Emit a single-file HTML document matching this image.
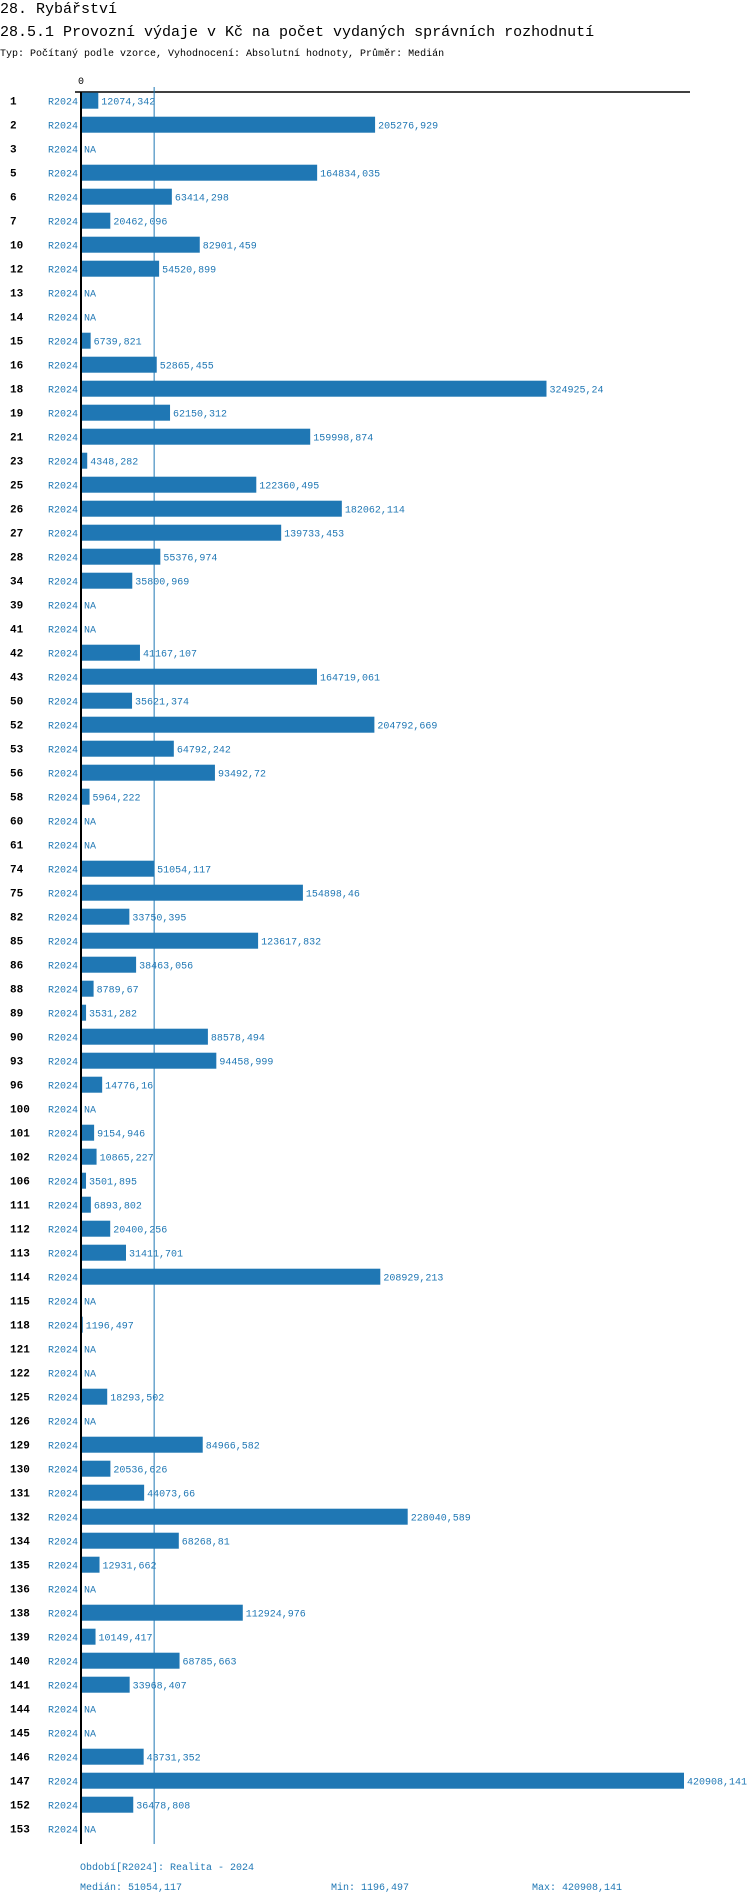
<!DOCTYPE html>
<html><head><meta charset="utf-8"><style>
body{margin:0;background:#fff;width:750px;height:1904px;overflow:hidden;font-family:"Liberation Mono",monospace}
svg{position:absolute;left:0;top:0}
</style></head><body>
<svg id="c" width="750" height="1904" font-family="Liberation Mono, monospace">
<text x="0" y="13" font-size="15">28. Rybářství</text>
<text x="0" y="36" font-size="15">28.5.1 Provozní výdaje v Kč na počet vydaných správních rozhodnutí</text>
<text x="0" y="56" font-size="10">Typ: Počítaný podle vzorce, Vyhodnocení: Absolutní hodnoty, Průměr: Medián</text>
<text x="81" y="84" font-size="10" text-anchor="middle">0</text>
<line x1="75" y1="92" x2="690" y2="92" stroke="#000" stroke-width="1.5"/>
<line id="med" y1="87" y2="1844" stroke="#1f77b4" stroke-width="1"/>
<g id="bars"></g>
<line x1="81" y1="92" x2="81" y2="1844" stroke="#000" stroke-width="2"/>
<g fill="#1f77b4" font-size="10">
<text x="80" y="1870">Období[R2024]: Realita - 2024</text>
<text x="80" y="1890">Medián: 51054,117</text>
<text x="331" y="1890">Min: 1196,497</text>
<text x="532" y="1890">Max: 420908,141</text>
</g>
</svg>
<script>
const categories=[1,2,3,5,6,7,10,12,13,14,15,16,18,19,21,23,25,26,27,28,34,39,41,42,43,50,52,53,56,58,60,61,74,75,82,85,86,88,89,90,93,96,100,101,102,106,111,112,113,114,115,118,121,122,125,126,129,130,131,132,134,135,136,138,139,140,141,144,145,146,147,152,153];
const values=[12074.342,205276.929,null,164834.035,63414.298,20462.096,82901.459,54520.899,null,null,6739.821,52865.455,324925.24,62150.312,159998.874,4348.282,122360.495,182062.114,139733.453,55376.974,35800.969,null,null,41167.107,164719.061,35621.374,204792.669,64792.242,93492.72,5964.222,null,null,51054.117,154898.46,33750.395,123617.832,38463.056,8789.67,3531.282,88578.494,94458.999,14776.16,null,9154.946,10865.227,3501.895,6893.802,20400.256,31411.701,208929.213,null,1196.497,null,null,18293.502,null,84966.582,20536.626,44073.66,228040.589,68268.81,12931.662,null,112924.976,10149.417,68785.663,33968.407,null,null,43731.352,420908.141,36478.808,null];
const period="R2024";
const median=51054.117;
const maxV=Math.max(...values.filter(v=>v!==null));
const x0=81, xr=603, y0=100.7, step=24.0;
const xs=v=>x0+v/maxV*xr;
const ys=i=>y0+i*step;
const fmt=v=>String(v).replace('.',',');
const NS="http://www.w3.org/2000/svg";
const g=document.getElementById('bars');
function mk(t,a){const e=document.createElementNS(NS,t);for(const k in a)e.setAttribute(k,a[k]);g.appendChild(e);return e;}
categories.forEach((c,i)=>{
  const y=ys(i);
  const t1=mk('text',{x:10,y:y+4,'font-size':11,'font-weight':'bold'});t1.textContent=c;
  
  
  const t2=mk('text',{x:78,y:y+4,'font-size':10,fill:'#1f77b4','text-anchor':'end'});t2.textContent=period;
  
  
  const v=values[i];
  let lx=x0+3;
  if(v!==null){
    const r=mk('rect',{x:x0,y:y-8,width:xs(v)-x0,height:16,fill:'#1f77b4'});
    
    
    lx=xs(v)+3;
  }
  const t3=mk('text',{x:lx,y:y+4,'font-size':10,fill:'#1f77b4'});t3.textContent=v===null?'NA':fmt(v);
  
  
});
const m=document.getElementById('med');m.setAttribute('x1',xs(median));m.setAttribute('x2',xs(median));
</script>
</body></html>
